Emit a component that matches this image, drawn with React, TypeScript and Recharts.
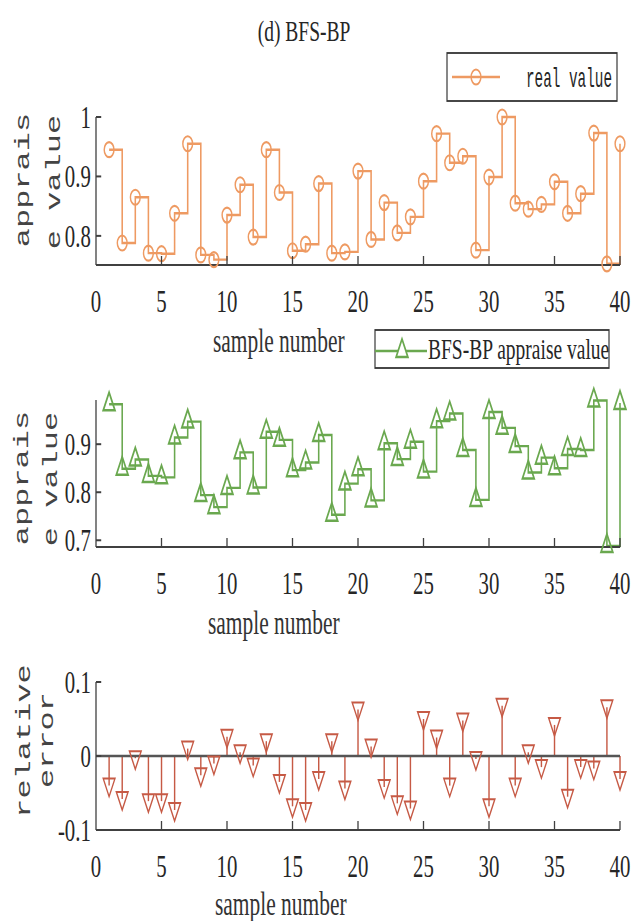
import React from "react";
import { ComposedChart, LineChart, Line, Bar, XAxis, YAxis, ReferenceLine } from "recharts";

// the reference figure is squeezed horizontally, so draw wide and scale x
const S = 0.65;
const W = 637 / S;
const PLOT_L = 96 / S;
const PLOT_R = 620 / S;
const X = (v: number) => v / S;

const ORANGE = "#EE9A62";
const GREEN = "#6AA84F";
const RED = "#C65A45";
const AXIS = "#404040";
const TXT = "#262626";
const SERIF = "'Liberation Serif', 'Times New Roman', serif";
const MONO = "'Liberation Mono', 'DejaVu Sans Mono', monospace";

const sampleNo = [
  1, 2, 3, 4, 5, 6, 7, 8, 9, 10, 11, 12, 13, 14, 15, 16, 17, 18, 19, 20,
  21, 22, 23, 24, 25, 26, 27, 28, 29, 30, 31, 32, 33, 34, 35, 36, 37, 38, 39, 40,
];
const realValue = [
  0.945, 0.788, 0.865, 0.771, 0.770, 0.838, 0.955, 0.768, 0.760, 0.835,
  0.886, 0.798, 0.945, 0.873, 0.775, 0.786, 0.888, 0.771, 0.773, 0.909,
  0.794, 0.856, 0.805, 0.832, 0.892, 0.972, 0.923, 0.934, 0.776, 0.899,
  1.0, 0.855, 0.845, 0.853, 0.891, 0.838, 0.871, 0.973, 0.753, 0.955,
];
const bpValue = [
  0.983, 0.849, 0.868, 0.834, 0.831, 0.914, 0.947, 0.794, 0.769, 0.809,
  0.883, 0.810, 0.926, 0.909, 0.846, 0.862, 0.919, 0.753, 0.818, 0.848,
  0.783, 0.902, 0.869, 0.905, 0.843, 0.948, 0.964, 0.888, 0.784, 0.967,
  0.934, 0.896, 0.841, 0.872, 0.850, 0.890, 0.888, 0.991, 0.688, 0.986,
];
const relError = [
  -0.040, -0.058, -0.003, -0.061, -0.061, -0.073, 0.010, -0.026, -0.010, 0.026,
  0.005, -0.013, 0.020, -0.035, -0.068, -0.073, -0.031, 0.020, -0.044, 0.063,
  0.013, -0.042, -0.064, -0.071, 0.050, 0.025, -0.040, 0.048, -0.004, -0.068,
  0.068, -0.040, 0.005, -0.015, 0.042, -0.055, -0.015, -0.017, 0.066, -0.031,
];
const xTicks = [0, 5, 10, 15, 20, 25, 30, 35, 40];
const realTicks = [0.8, 0.9, 1];
const bpTicks = [0.7, 0.8, 0.9];
const errTicks = [-0.1, 0, 0.1];

const realData = sampleNo.map((n, i) => ({ n, v: realValue[i] }));
const bpData = sampleNo.map((n, i) => ({ n, v: bpValue[i] }));
const errData = sampleNo.map((n, i) => ({ n, v: relError[i] }));

const XTick = (p: any) => (
  <g>
    {p.payload.value !== 0 && (
      <line x1={p.x} y1={p.y} x2={p.x} y2={p.y - 9} stroke={AXIS} strokeWidth={2} />
    )}
    <text x={p.x} y={p.y + 47} textAnchor="middle" fontFamily={SERIF} fontSize={32} fill={TXT}>
      {p.payload.value}
    </text>
  </g>
);

const YTick = (p: any) => (
  <g>
    <line x1={p.x} y1={p.y} x2={p.x + 8} y2={p.y} stroke={AXIS} strokeWidth={2} />
    <text x={p.x - 8} y={p.y + 11} textAnchor="end" fontFamily={SERIF} fontSize={32} fill={TXT}>
      {p.payload.value}
    </text>
  </g>
);

const circleDot = (p: any) => (
  <circle key={`c${p.index}`} cx={p.cx} cy={p.cy} r={7.5} fill="none" stroke={ORANGE} strokeWidth={2.2} />
);
const triUp = (p: any) => (
  <path
    key={`u${p.index}`}
    d={`M${p.cx},${p.cy - 12} L${p.cx + 9},${p.cy + 6} L${p.cx - 9},${p.cy + 6} Z`}
    fill="none"
    stroke={GREEN}
    strokeWidth={2.5}
  />
);
const triDown = (p: any) => (
  <path
    key={`d${p.index}`}
    d={`M${p.cx - 9},${p.cy - 7} L${p.cx + 9},${p.cy - 7} L${p.cx},${p.cy + 11} Z`}
    fill="none"
    stroke={RED}
    strokeWidth={2}
  />
);

function axes(top: number, height: number, plotTop: number, plotBottom: number, domain: number[], ticks: number[]) {
  return {
    margin: { top: plotTop - top, right: W - PLOT_R, bottom: 0, left: 0 },
    x: (
      <XAxis
        dataKey="n"
        type="number"
        domain={[0, 40]}
        ticks={xTicks}
        interval={0}
        tickSize={0}
        tickMargin={0}
        height={top + height - plotBottom}
        axisLine={{ stroke: AXIS, strokeWidth: 2 }}
        tick={XTick}
      />
    ),
    y: (
      <YAxis
        type="number"
        domain={domain}
        ticks={ticks}
        interval={0}
        tickSize={0}
        tickMargin={0}
        width={PLOT_L}
        axisLine={{ stroke: AXIS, strokeWidth: 2 }}
        tick={YTick}
      />
    ),
  };
}

const p1 = axes(0, 330, 117, 265, [0.751, 1], realTicks);
const p2 = axes(360, 290, 400, 547, [0.686, 0.992], bpTicks);
const p3 = axes(650, 271, 682, 830, [-0.1, 0.1], errTicks);

const YLabel = ({ x, y, children }: any) => (
  <text
    x={x}
    y={y}
    transform={`rotate(-90, ${x}, ${y})`}
    textAnchor="middle"
    fontFamily={MONO}
    fontSize={32}
    fill="#444"
  >
    {children}
  </text>
);

const XLabel = ({ x, y }: any) => (
  <text x={x} y={y} fontFamily={SERIF} fontSize={33} fill="#333">
    sample number
  </text>
);

export default function App() {
  return (
    <div style={{ position: "absolute", left: 0, top: 0, width: 637, height: 921, overflow: "hidden", background: "#fff" }}>
      <div style={{ position: "relative", width: W, height: 921, transform: `scaleX(${S})`, transformOrigin: "0 0" }}>
        <div style={{ position: "absolute", left: 0, top: 0 }}>
          <LineChart width={W} height={330} data={realData} margin={p1.margin}>
            {p1.x}
            {p1.y}
            <Line type="stepAfter" dataKey="v" stroke={ORANGE} strokeWidth={2.4} dot={circleDot} isAnimationActive={false} />
          </LineChart>
        </div>
        <div style={{ position: "absolute", left: 0, top: 360 }}>
          <LineChart width={W} height={290} data={bpData} margin={p2.margin}>
            {p2.x}
            {p2.y}
            <Line type="stepAfter" dataKey="v" stroke={GREEN} strokeWidth={2.4} dot={triUp} isAnimationActive={false} />
          </LineChart>
        </div>
        <div style={{ position: "absolute", left: 0, top: 650 }}>
          <ComposedChart width={W} height={271} data={errData} margin={p3.margin}>
            {p3.x}
            {p3.y}
            <ReferenceLine y={0} stroke="#555" strokeWidth={2.5} />
            <Bar dataKey="v" barSize={2.2} fill={RED} isAnimationActive={false} />
            <Line dataKey="v" stroke="none" strokeWidth={0} dot={triDown} activeDot={false} isAnimationActive={false} />
          </ComposedChart>
        </div>
        <svg width={W} height={921} style={{ position: "absolute", left: 0, top: 0, pointerEvents: "none" }}>
          <text x={X(304)} y={41} textAnchor="middle" fontFamily={SERIF} fontSize={30} fill={TXT}>
            (d) BFS-BP
          </text>

          <rect x={X(447)} y={53} width={X(170)} height={48} fill="#fff" stroke="#333" strokeWidth={1.8} />
          <line x1={X(452)} y1={77} x2={X(500)} y2={77} stroke={ORANGE} strokeWidth={2.4} />
          <circle cx={X(476)} cy={77} r={7.5} fill="none" stroke={ORANGE} strokeWidth={2.2} />
          <text
            x={X(526)}
            y={87}
            fontFamily={MONO}
            fontSize={27}
            fill={TXT}
            textLength={X(86)}
            lengthAdjust="spacingAndGlyphs"
          >
            real value
          </text>

          <rect x={X(375)} y={330} width={X(234)} height={38} fill="#fff" stroke="#333" strokeWidth={1.8} />
          <line x1={X(375)} y1={351} x2={X(427)} y2={351} stroke={GREEN} strokeWidth={2.4} />
          <path d={`M${X(402)},${339} L${X(402) + 9},${357} L${X(402) - 9},${357} Z`} fill="#fff" stroke={GREEN} strokeWidth={2.5} />
          <text x={X(428)} y={359} fontFamily={SERIF} fontSize={30} fill={TXT}>
            BFS-BP appraise value
          </text>

          <XLabel x={X(213)} y={352} />
          <XLabel x={X(208)} y={634} />
          <XLabel x={X(215)} y={915} />

          <YLabel x={X(29)} y={180}>apprais</YLabel>
          <YLabel x={X(60)} y={182}>e value</YLabel>
          <YLabel x={X(28)} y={478}>apprais</YLabel>
          <YLabel x={X(57)} y={479}>e value</YLabel>
          <YLabel x={X(30)} y={741}>relative</YLabel>
          <YLabel x={X(53)} y={740}>error</YLabel>
        </svg>
      </div>
    </div>
  );
}
